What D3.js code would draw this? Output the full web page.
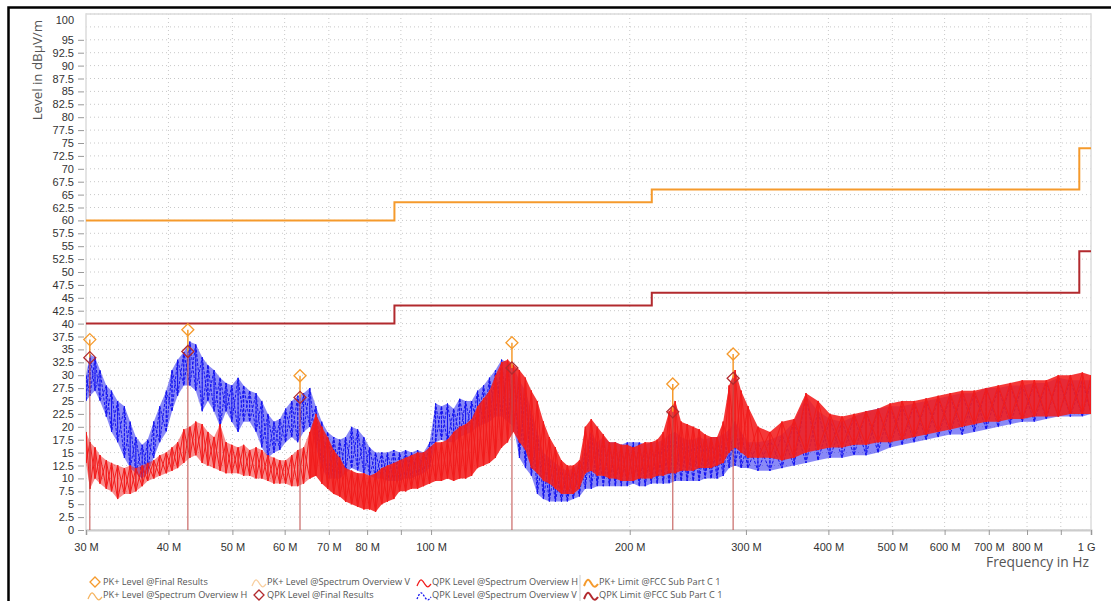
<!DOCTYPE html>
<html>
<head>
<meta charset="utf-8">
<script src="https://cdn.jsdelivr.net/npm/d3@7"></script>
<style>
  body { margin: 0; background: #fff; }
  svg { display: block; }
  text { font-family: "Liberation Sans", Arial, sans-serif; }
</style>
</head>
<body>
<svg width="1111" height="601"></svg>
<script>
// frequencies in MHz, levels in dBµV/m
var xTicks = [30, 40, 50, 60, 70, 80, 90, 100, 200, 300, 400, 500, 600, 700, 800, 900, 1000];
var xTickLabels = ["30 M", "40 M", "50 M", "60 M", "70 M", "80 M", "", "100 M", "200 M", "300 M", "400 M", "500 M", "600 M", "700 M", "800 M", "", "1 G"];

// limit lines, step edges
var limitFreq = [30, 88, 88, 216, 216, 960, 960, 1000];
var pkLimit   = [60, 60, 63.5, 63.5, 66, 66, 74, 74];
var qpkLimit  = [40, 40, 43.5, 43.5, 46, 46, 54, 54];

// final results
var finalFreq = [30.4, 42.8, 63.3, 132.6, 232.4, 286.9];
var finalPK   = [36.9, 38.8, 29.9, 36.3, 28.3, 34.1];
var finalQPK  = [33.4, 34.6, 25.7, 31.4, 22.9, 29.4];

// spectrum overview V (blue): [freq, low, high]
var overviewV = [
  [30.0, 25, 30], [30.42, 26, 34], [30.96, 27, 33.5], [31.5, 25, 31], [32.2, 22, 28],
  [32.8, 19, 27], [33.5, 17, 25], [34.3, 14, 24], [35.0, 12, 21], [35.7, 11, 18],
  [36.5, 10, 16.5], [37.2, 11, 17.5], [38.0, 14, 21], [38.8, 17, 24], [39.7, 19, 27],
  [40.5, 23, 31], [41.3, 26, 33], [42.2, 28, 34.5], [43.1, 28, 36.5], [44.0, 27, 36],
  [45.0, 23, 33.5], [45.9, 25, 32], [46.9, 23, 31], [47.9, 20, 29.5], [48.9, 23, 28.5],
  [49.9, 21, 28], [51.0, 19, 29.5], [52.0, 21, 28], [53.1, 21, 27], [54.3, 19, 26.5],
  [55.4, 16, 25], [56.6, 14, 22.5], [57.8, 15, 21], [59.0, 15.5, 21.5], [60.2, 17, 23.5],
  [61.5, 18, 25], [62.8, 17, 26], [64.1, 19, 26.5], [65.5, 20, 27.5], [66.9, 16, 24],
  [68.3, 12, 21], [69.7, 10, 19], [71.2, 10, 18], [72.7, 10, 17.5], [74.2, 11, 18],
  [75.8, 12, 20], [77.4, 11.5, 19.5], [79.1, 11, 18], [80.7, 10.5, 16], [82.4, 10, 15],
  [84.2, 10, 15], [85.9, 9.5, 15], [87.8, 9.5, 15.5], [89.6, 9.5, 15], [91.5, 10, 15.5],
  [93.4, 10, 15], [95.4, 10.5, 15.5], [97.4, 11, 15], [99.5, 12, 17], [101.6, 17, 24.5],
  [103.7, 17.5, 24], [105.9, 17, 24.5], [108.2, 17, 23.5], [110.5, 18, 25.5], [112.8, 18.5, 25],
  [115.2, 19, 25], [117.6, 20, 27], [120.1, 20.5, 28], [122.6, 21, 29.5], [125.2, 22, 31],
  [127.9, 22, 33], [130.6, 21, 32.5], [133.3, 20, 31.5], [136.1, 14, 29], [139.0, 12, 27],
  [141.9, 10.5, 23], [144.9, 7, 19], [148.0, 6, 15], [151.1, 5.5, 14], [154.3, 5.5, 13],
  [157.6, 5.5, 12], [160.9, 5.5, 11.5], [164.3, 6, 12], [167.8, 6.5, 13], [171.3, 8, 16],
  [174.9, 8, 19], [178.6, 8.5, 17], [182.4, 8.5, 18], [186.3, 8.5, 17], [190.2, 8.5, 17],
  [194.2, 8.5, 16.5], [198.3, 8.5, 17], [202.5, 9, 17], [206.8, 8.5, 17], [211.1, 8.5, 16.5],
  [215.6, 9, 17], [220.1, 9, 17], [224.8, 9, 17.5], [229.5, 9, 18.5], [234.4, 9.5, 19],
  [239.3, 9.5, 18], [244.4, 9.5, 17.5], [249.6, 9.5, 17.5], [254.8, 9.5, 18], [260.2, 10, 17.5],
  [265.7, 10, 18], [271.3, 10, 18], [277.1, 10.5, 18.5], [282.9, 12, 19.5], [288.9, 12.5, 21],
  [295.0, 12, 19], [302.1, 12, 17], [312.8, 11.5, 17], [326.2, 11.5, 17.5], [340.2, 12, 18.5],
  [354.8, 12.5, 21], [369.9, 13, 26], [385.8, 13.5, 23], [402.3, 14, 21.5], [419.5, 14, 21],
  [437.5, 14.5, 22], [456.2, 14.5, 23], [475.7, 15, 23.5], [496.1, 16, 24], [517.4, 16.5, 24],
  [539.5, 17, 24.5], [562.6, 17.5, 25], [586.7, 18, 25.5], [611.8, 18.5, 26], [638.0, 18.5, 26.5],
  [665.3, 19, 26.5], [693.8, 19.5, 27.5], [723.5, 20, 27.5], [754.5, 20.5, 28], [786.8, 21, 28],
  [820.5, 21, 28.5], [855.6, 21.5, 28.5], [892.2, 22, 29.5], [930.4, 22, 29], [970.3, 22, 29],
  [1000, 22.5, 29]
];

// spectrum overview H (red): [freq, low, high]
var overviewH = [
  [30.0, 13, 19], [30.42, 8, 17], [30.96, 10, 16], [31.5, 9, 14.5], [32.2, 8, 13.5],
  [32.8, 7.5, 13], [33.5, 6, 12.5], [34.3, 7, 12], [35.0, 7, 12.5], [35.7, 7.5, 12],
  [36.5, 8.5, 12.5], [37.2, 9.5, 13], [38.0, 10, 13.5], [38.8, 10.5, 14.5], [39.7, 11, 15],
  [40.5, 11.5, 16], [41.3, 12, 17], [42.2, 13, 19.5], [43.1, 14, 20], [44.0, 14.5, 21],
  [45.0, 13, 20.5], [45.9, 12.5, 19], [46.9, 12, 18], [47.9, 11.5, 20.5], [48.9, 11, 17],
  [49.9, 11, 16.5], [51.0, 11, 16], [52.0, 10.5, 16.5], [53.1, 10.5, 15.5], [54.3, 10, 16],
  [55.4, 10, 15.5], [56.6, 9.5, 14.5], [57.8, 9, 14], [59.0, 9, 13.5], [60.2, 9, 13.5],
  [61.5, 8.5, 14.5], [62.8, 8.5, 15.5], [64.1, 9, 16], [65.5, 10, 19], [66.9, 10.5, 22.5],
  [68.3, 9, 20], [69.7, 8, 18], [71.2, 7, 15.5], [72.7, 6.5, 14], [74.2, 5.5, 12],
  [75.8, 5, 11.5], [77.4, 4.5, 11], [79.1, 4, 11], [80.7, 4, 10.5], [82.4, 3.5, 11],
  [84.2, 5, 12], [85.9, 5.5, 12.5], [87.8, 6, 13], [89.6, 7.5, 13.5], [91.5, 7.5, 14],
  [93.4, 8, 14.5], [95.4, 8, 15], [97.4, 8.5, 15], [99.5, 9, 16], [101.6, 9.5, 17],
  [103.7, 9.5, 17], [105.9, 10, 17.5], [108.2, 9.5, 19], [110.5, 10, 20], [112.8, 10, 20.5],
  [115.2, 10.5, 21.5], [117.6, 12, 24], [120.1, 12.5, 25.5], [122.6, 13, 27], [125.2, 14, 30],
  [127.9, 16, 32.5], [130.6, 17, 33], [133.3, 19, 32], [136.1, 17, 31], [139.0, 15.5, 29.5],
  [141.9, 12, 27], [144.9, 11, 25], [148.0, 9.5, 21], [151.1, 9, 18], [154.3, 8, 16],
  [157.6, 7, 13.5], [160.9, 7, 12.5], [164.3, 7, 12.5], [167.8, 8, 13.5], [171.3, 11, 20],
  [174.9, 11.5, 21.5], [178.6, 10.5, 20], [182.4, 10.5, 18.5], [186.3, 10, 17], [190.2, 10, 17],
  [194.2, 9.5, 16.5], [198.3, 9.5, 16.5], [202.5, 9.5, 16], [206.8, 10, 16.5], [211.1, 10, 17],
  [215.6, 10, 17], [220.1, 10.5, 17.5], [224.8, 10.5, 19], [229.5, 11, 23], [234.4, 11, 25],
  [239.3, 11.5, 21], [244.4, 11.5, 20.5], [249.6, 11.5, 20], [254.8, 12, 19.5], [260.2, 12, 18.5],
  [265.7, 12, 18], [271.3, 12.5, 18], [277.1, 13, 21], [282.9, 15, 28], [288.9, 16, 31],
  [295.0, 15, 27], [302.1, 14, 24], [312.8, 14, 20], [326.2, 14, 19], [340.2, 13.5, 21],
  [354.8, 14, 21.5], [369.9, 15, 26.5], [385.8, 15.5, 25], [402.3, 16, 22.5], [419.5, 16, 22],
  [437.5, 16.5, 22.5], [456.2, 16.5, 23], [475.7, 17, 23.5], [496.1, 17, 24.5], [517.4, 17.5, 25],
  [539.5, 18, 25], [562.6, 18.5, 25.5], [586.7, 19, 26], [611.8, 19.5, 26.5], [638.0, 20, 27],
  [665.3, 20.5, 27], [693.8, 21, 27.5], [723.5, 21, 28], [754.5, 21.5, 28.5], [786.8, 21.5, 29],
  [820.5, 22, 29], [855.6, 22, 29], [892.2, 22, 30], [930.4, 22.5, 30], [970.3, 22.5, 30.5],
  [1000, 22.5, 30]
];

var yTicks = d3.range(0, 100.01, 2.5);

var plotLeft = 86, plotRight = 1091, plotTop = 14, plotBottom = 530;
var orange = "#f59a2c", darkRed = "#b22a2e";

var svg = d3.select("svg");

var xScale = d3.scaleLog().domain([30, 1000]).range([plotLeft, plotRight]);
var yScale = d3.scaleLinear().domain([0, 100]).range([plotBottom, plotTop]);

// black frame
svg.append("path")
    .attr("d", "M8.5,601 V7.5 H1111")
    .attr("fill", "none")
    .attr("stroke", "#000")
    .attr("stroke-width", 2.5);

// grid
svg.append("g").selectAll("line")
    .data(yTicks)
    .enter().append("line")
    .attr("x1", plotLeft).attr("x2", plotRight)
    .attr("y1", d => yScale(d)).attr("y2", d => yScale(d))
    .attr("stroke", "#c8c8c8").attr("stroke-dasharray", "1,3");
svg.append("g").selectAll("line")
    .data(xTicks.slice(1, -1))
    .enter().append("line")
    .attr("x1", d => xScale(d)).attr("x2", d => xScale(d))
    .attr("y1", plotTop).attr("y2", plotBottom)
    .attr("stroke", "#c8c8c8").attr("stroke-dasharray", "1,3");

svg.append("rect")
    .attr("x", plotLeft).attr("y", plotTop)
    .attr("width", plotRight - plotLeft).attr("height", plotBottom - plotTop)
    .attr("fill", "none").attr("stroke", "#dcdcdc").attr("stroke-width", 1.5);

// y axis
var yAxis = d3.axisLeft(yScale)
    .tickValues(yTicks.filter(d => d < 97))
    .tickSize(6).tickPadding(4)
    .tickFormat(d => d);
var gy = svg.append("g")
    .attr("transform", `translate(${plotLeft - 2},0)`)
    .call(yAxis);
gy.select(".domain").remove();
gy.selectAll("line").attr("stroke", "#999");
gy.selectAll("text").style("font-size", "11px").attr("fill", "#333");
svg.append("text")
    .attr("x", plotLeft - 12).attr("y", 24)
    .attr("text-anchor", "end")
    .style("font-size", "11px").attr("fill", "#333")
    .text("100");

svg.append("text")
    .attr("transform", "rotate(-90)")
    .attr("x", -20).attr("y", 42)
    .attr("text-anchor", "end")
    .style("font-family", "'Open Sans', sans-serif")
    .style("font-size", "13.3px").attr("fill", "#555")
    .text("Level in dBµV/m");

// x axis
var xAxis = d3.axisBottom(xScale)
    .tickValues(xTicks)
    .tickSize(5).tickPadding(8)
    .tickFormat((d, i) => xTickLabels[i]);
var gx = svg.append("g")
    .attr("transform", `translate(0,${plotBottom})`)
    .call(xAxis);
gx.select(".domain").attr("stroke", "#ccc").attr("stroke-width", 2);
gx.selectAll("line").attr("stroke", "#999");
gx.selectAll("text").style("font-size", "11px").attr("fill", "#333");
gx.selectAll("text").filter(d => d === 1000).attr("text-anchor", "end").attr("dx", 4);

svg.append("text")
    .attr("x", plotRight - 2).attr("y", 567)
    .attr("text-anchor", "end")
    .style("font-family", "'Open Sans', sans-serif")
    .style("font-size", "13.8px").attr("fill", "#555")
    .text("Frequency in Hz");

// traces
svg.append("clipPath").attr("id", "plot")
    .append("rect")
    .attr("x", plotLeft).attr("y", plotTop)
    .attr("width", plotRight - plotLeft).attr("height", plotBottom - plotTop);
var plot = svg.append("g").attr("clip-path", "url(#plot)");

var band = d3.area()
    .x(d => xScale(d[0]))
    .y0(d => yScale(d[1]))
    .y1(d => yScale(d[2]));
var line = d3.line()
    .x(d => xScale(d[0]))
    .y(d => yScale(d[1]));

function zig(data, up) {
    var pts = [];
    data.forEach(d => {
        if (up) { pts.push([d[0], d[1]]); pts.push([d[0], d[2]]); }
        else { pts.push([d[0], d[2]]); pts.push([d[0], d[1]]); }
    });
    return pts;
}

// the low band of the red trace is sparser than the rest
function drawTrace(data, color, fillOpacity, dash, splitAt, lowOpacity) {
    var parts = splitAt
        ? [[data.filter(d => d[0] <= splitAt), lowOpacity], [data.filter(d => d[0] >= splitAt - 1.5), fillOpacity]]
        : [[data, fillOpacity]];
    parts.forEach(p => {
        plot.append("path")
            .datum(p[0])
            .attr("d", band)
            .attr("fill", color).attr("fill-opacity", p[1]);
    });
    [true, false].forEach(up => {
        plot.append("path")
            .datum(zig(data, up))
            .attr("d", line)
            .attr("fill", "none")
            .attr("stroke", color)
            .attr("stroke-width", 1)
            .attr("stroke-linejoin", "bevel")
            .attr("stroke-dasharray", dash);
    });
}

drawTrace(overviewV, "#1414f0", 0.5, "3,1.5");
drawTrace(overviewH, "#f21c1c", 0.88, null, 66.9, 0.5);

// limits
var limLine = d3.line()
    .x(d => xScale(d[0]))
    .y(d => yScale(d[1]));
svg.append("path")
    .datum(limitFreq.map((f, i) => [f, pkLimit[i]]))
    .attr("d", limLine)
    .attr("fill", "none").attr("stroke", orange).attr("stroke-width", 2);
svg.append("path")
    .datum(limitFreq.map((f, i) => [f, qpkLimit[i]]))
    .attr("d", limLine)
    .attr("fill", "none").attr("stroke", darkRed).attr("stroke-width", 2);

// final result stems and markers
var finals = finalFreq.map((f, i) => ({f: f, pk: finalPK[i], qpk: finalQPK[i]}));
var gf = svg.append("g");
gf.selectAll(".stem-q")
    .data(finals).enter().append("line")
    .attr("x1", d => xScale(d.f)).attr("x2", d => xScale(d.f))
    .attr("y1", d => yScale(d.qpk)).attr("y2", plotBottom)
    .attr("stroke", "#c0504d").attr("stroke-opacity", 0.8).attr("stroke-width", 1.3);
gf.selectAll(".stem-p")
    .data(finals).enter().append("line")
    .attr("x1", d => xScale(d.f)).attr("x2", d => xScale(d.f))
    .attr("y1", d => yScale(d.pk)).attr("y2", d => yScale(d.qpk))
    .attr("stroke", orange).attr("stroke-width", 1.5);

var diamond = "M0,-6 L6,0 L0,6 L-6,0 Z";
gf.selectAll(".mk-q")
    .data(finals).enter().append("path")
    .attr("d", diamond)
    .attr("transform", d => `translate(${xScale(d.f)},${yScale(d.qpk)})`)
    .attr("fill", "none").attr("stroke", darkRed).attr("stroke-width", 1.3);
gf.selectAll(".mk-p")
    .data(finals).enter().append("path")
    .attr("d", diamond)
    .attr("transform", d => `translate(${xScale(d.f)},${yScale(d.pk)})`)
    .attr("fill", "none").attr("stroke", orange).attr("stroke-width", 1.3);

// legend
var legendItems = [
    {x: 95, row: 0, kind: "diamond", color: orange, label: "PK+ Level @Final Results"},
    {x: 259, row: 0, kind: "wave", color: "#f8cfa0", label: "PK+ Level @Spectrum Overview V"},
    {x: 424, row: 0, kind: "wave", color: "#f21c1c", label: "QPK Level @Spectrum Overview H"},
    {x: 591, row: 0, kind: "wave", color: orange, width: 2, label: "PK+ Limit @FCC Sub Part C 1"},
    {x: 95, row: 1, kind: "wave", color: "#f5b461", label: "PK+ Level @Spectrum Overview H"},
    {x: 259, row: 1, kind: "diamond", color: darkRed, label: "QPK Level @Final Results"},
    {x: 424, row: 1, kind: "wave", color: "#1414f0", dash: "2,1.5", label: "QPK Level @Spectrum Overview V"},
    {x: 591, row: 1, kind: "wave", color: darkRed, width: 2, label: "QPK Limit @FCC Sub Part C 1"}
];
var wave = d3.line().curve(d3.curveBasis)([[-7, 4], [-3, -5], [1, 3], [4, 6], [7, 2]]);
var lg = svg.append("g")
    .selectAll("g")
    .data(legendItems)
    .enter().append("g")
    .attr("transform", d => `translate(${d.x},${582 + d.row * 13})`);
lg.append("path")
    .attr("d", d => d.kind === "diamond" ? "M0,-5 L5,0 L0,5 L-5,0 Z" : wave)
    .attr("fill", "none")
    .attr("stroke", d => d.color)
    .attr("stroke-width", d => d.width || 1.3)
    .attr("stroke-dasharray", d => d.dash || null);
lg.append("text")
    .attr("x", 8).attr("y", 3.3)
    .style("font-family", "'Open Sans', sans-serif")
    .style("font-size", "9.2px").attr("fill", "#555")
    .text(d => d.label);
svg.append("line")
    .attr("x1", 580).attr("x2", 580).attr("y1", 575).attr("y2", 601)
    .attr("stroke", "#ccc");
</script>
</body>
</html>
